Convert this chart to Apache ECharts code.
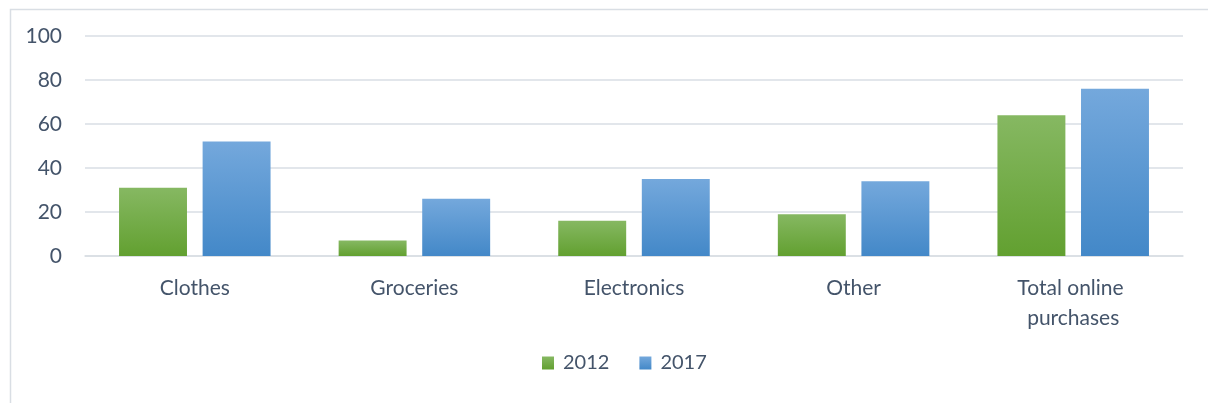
<!DOCTYPE html>
<html>
<head>
<meta charset="utf-8">
<script src="https://cdn.jsdelivr.net/npm/echarts@6/dist/echarts.min.js"></script>
<style>
  html, body { margin: 0; padding: 0; background: #ffffff; }
  #chart { width: 1208px; height: 403px; }
</style>
</head>
<body>
<div id="chart"></div>
<script>
// Online purchases by category, share (%) in 2012 and 2017
const categories = ['Clothes', 'Groceries', 'Electronics', 'Other', 'Total online purchases'];
const values2012 = [31, 7, 16, 19, 64];
const values2017 = [52, 26, 35, 34, 76];
const yTicks = [0, 20, 40, 60, 80, 100];

const textColor = '#44546a';
const fontFamily = 'Lato, "Open Sans", sans-serif';

function vGradient(top, bottom) {
  return new echarts.graphic.LinearGradient(0, 0, 0, 1, [
    { offset: 0, color: top },
    { offset: 1, color: bottom }
  ]);
}

const chart = echarts.init(document.getElementById('chart'), null, { renderer: 'canvas' });

chart.setOption({
  animation: false,
  backgroundColor: '#ffffff',
  textStyle: { fontFamily: fontFamily },
  graphic: [{
    type: 'rect',
    left: 8, top: 7,
    shape: { width: 1220, height: 420 },
    style: { fill: 'none', stroke: '#d9dee4', lineWidth: 1.5 },
    silent: true
  }],
  grid: { left: 85, right: 25, top: 36, bottom: 147, containLabel: false },
  legend: {
    bottom: 25,
    left: 537,
    itemWidth: 12,
    itemHeight: 13,
    itemGap: 30,
    icon: 'rect',
    textStyle: { color: textColor, fontSize: 20, fontFamily: fontFamily, padding: [0, 0, 0, 4] },
    data: ['2012', '2017']
  },
  xAxis: {
    type: 'category',
    data: categories,
    axisLine: { show: true, lineStyle: { color: '#d9dee4', width: 1.5 } },
    axisTick: { show: false },
    axisLabel: {
      color: textColor,
      fontSize: 21,
      fontFamily: fontFamily,
      margin: 17,
      lineHeight: 30,
      width: 150,
      overflow: 'break',
      interval: 0
    }
  },
  yAxis: {
    type: 'value',
    min: yTicks[0],
    max: yTicks[yTicks.length - 1],
    interval: yTicks[1] - yTicks[0],
    axisLine: { show: false },
    axisTick: { show: false },
    axisLabel: { color: textColor, fontSize: 21, fontFamily: fontFamily, margin: 23 },
    splitLine: { show: true, lineStyle: { color: '#d9dee4', width: 1.5 } }
  },
  series: [
    {
      name: '2012',
      type: 'bar',
      data: values2012,
      barGap: '23%',
      barCategoryGap: '31%',
      itemStyle: { color: vGradient('#86b862', '#62a030') }
    },
    {
      name: '2017',
      type: 'bar',
      data: values2017,
      barGap: '23%',
      barCategoryGap: '31%',
      itemStyle: { color: vGradient('#74a8dc', '#4388c8') }
    }
  ]
});
</script>
</body>
</html>
